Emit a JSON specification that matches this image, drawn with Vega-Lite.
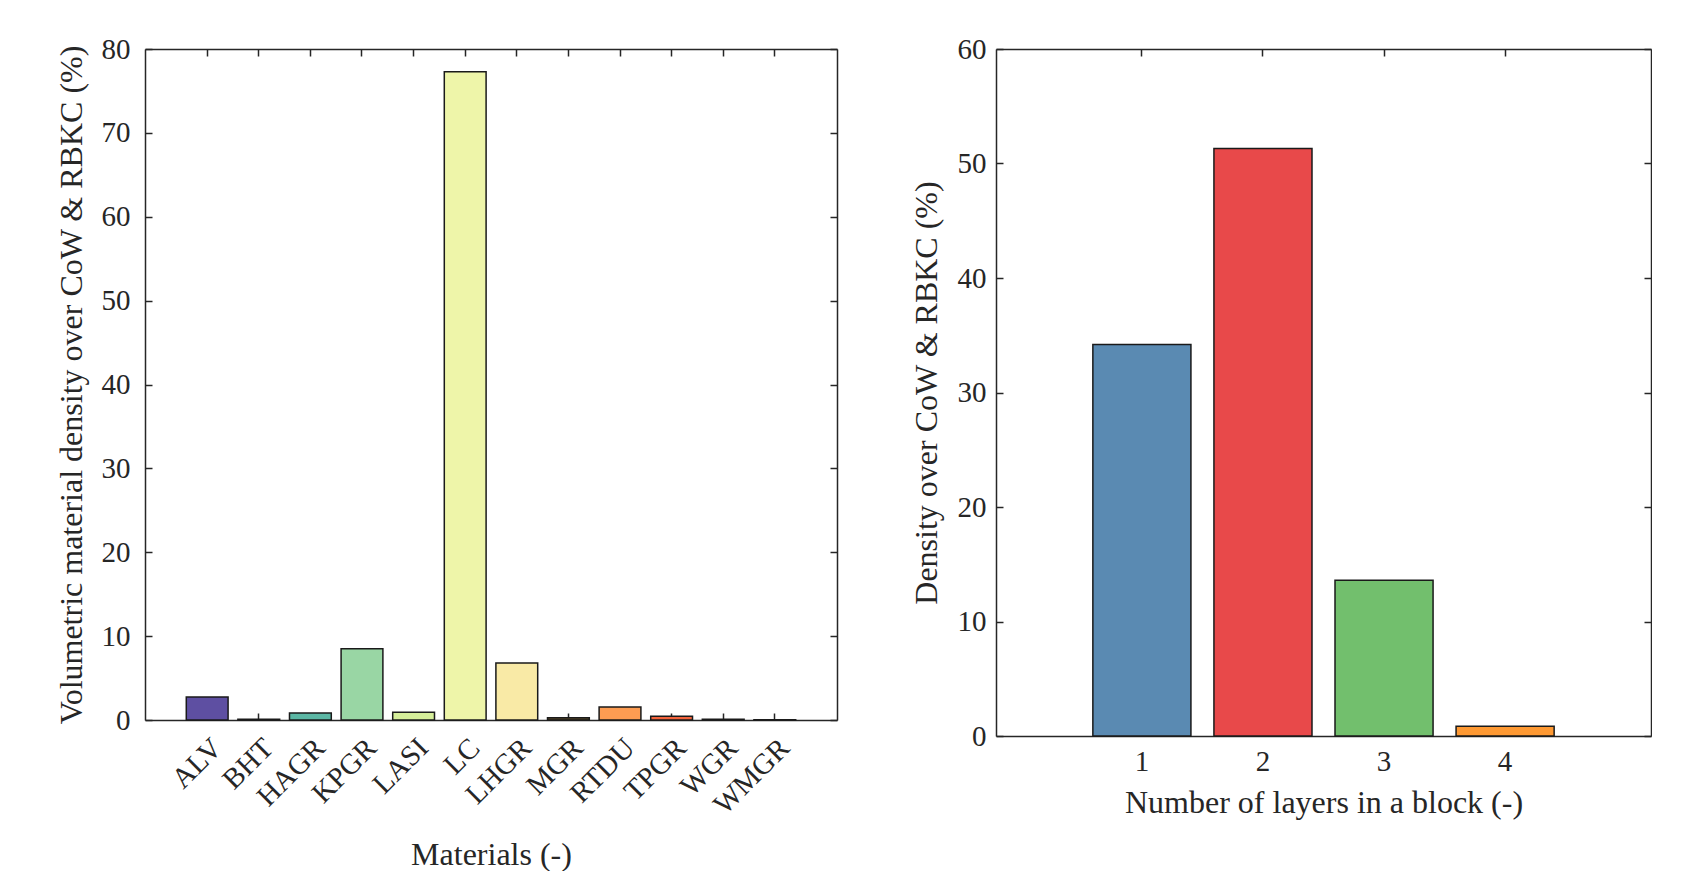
{
  "$schema": "https://vega.github.io/schema/vega-lite/v6.json",
  "padding": {"left": 55, "top": 35, "right": 0, "bottom": 0},
  "background": "white",
  "spacing": 72,
  "resolve": {"scale": {"color": "independent"}},
  "config": {
    "font": "Liberation Serif",
    "view": {"stroke": null},
    "axis": {
      "labelFont": "Liberation Serif",
      "titleFont": "Liberation Serif",
      "labelFontSize": 29,
      "titleFontSize": 32,
      "labelColor": "#262626",
      "titleColor": "#262626",
      "titleFontWeight": "normal",
      "domainColor": "#262626",
      "domainWidth": 1.5,
      "tickColor": "#262626",
      "tickWidth": 1.5,
      "tickSize": -7,
      "grid": false
    }
  },
  "hconcat": [
    {
      "width": 692,
      "height": 671,
      "data": {"values": [
        {"material": "ALV", "density": 2.75},
        {"material": "BHT", "density": 0.08},
        {"material": "HAGR", "density": 0.84},
        {"material": "KPGR", "density": 8.5},
        {"material": "LASI", "density": 0.92},
        {"material": "LC", "density": 77.3},
        {"material": "LHGR", "density": 6.8},
        {"material": "MGR", "density": 0.26},
        {"material": "RTDU", "density": 1.55},
        {"material": "TPGR", "density": 0.44},
        {"material": "WGR", "density": 0.08},
        {"material": "WMGR", "density": 0.04}
      ]},
      "layer": [
        {
          "mark": {"type": "bar", "stroke": "#1a1a1a", "strokeWidth": 1.5},
          "encoding": {
            "x": {"field": "material", "type": "nominal", "sort": null,
              "scale": {"paddingInner": 0.19, "paddingOuter": 0.8},
              "axis": {"orient": "bottom", "title": "Materials (-)", "labelAngle": -45, "labelAlign": "right", "labelBaseline": "top", "labelPadding": 20, "titlePadding": 20}},
            "y": {"field": "density", "type": "quantitative",
              "scale": {"domain": [0, 80], "nice": false},
              "axis": {"orient": "left", "values": [0, 10, 20, 30, 40, 50, 60, 70, 80], "title": "Volumetric material density over CoW & RBKC (%)", "labelPadding": 22, "titlePadding": 13}},
            "color": {"field": "material", "type": "nominal", "sort": null, "legend": null,
              "scale": {
                "domain": ["ALV", "BHT", "HAGR", "KPGR", "LASI", "LC", "LHGR", "MGR", "RTDU", "TPGR", "WGR", "WMGR"],
                "range": ["#5e4fa2", "#8a8a9a", "#5bb7a4", "#99d6a4", "#d6ef9a", "#eef5a9", "#f9eaa6", "#5c4a27", "#fd9c52", "#f4643c", "#c0505a", "#7a1f3a"]
              }}
          }
        },
        {
          "mark": {"type": "bar", "fillOpacity": 0, "strokeOpacity": 0},
          "encoding": {
            "x": {"field": "material", "type": "nominal", "sort": null,
              "axis": {"orient": "top", "labels": false, "title": null}},
            "y": {"field": "density", "type": "quantitative",
              "axis": {"orient": "right", "labels": false, "title": null, "values": [0, 10, 20, 30, 40, 50, 60, 70, 80]}}
          }
        }
      ],
      "resolve": {"axis": {"x": "independent", "y": "independent"}}
    },
    {
      "width": 655,
      "height": 687,
      "data": {"values": [
        {"layers": "1", "density": 34.2},
        {"layers": "2", "density": 51.3},
        {"layers": "3", "density": 13.6},
        {"layers": "4", "density": 0.85}
      ]},
      "layer": [
        {
          "mark": {"type": "bar", "stroke": "#1a1a1a", "strokeWidth": 1.5},
          "encoding": {
            "x": {"field": "layers", "type": "nominal", "sort": null,
              "scale": {"paddingInner": 0.19, "paddingOuter": 0.8},
              "axis": {"orient": "bottom", "title": "Number of layers in a block (-)", "labelAngle": 0, "labelPadding": 18, "titlePadding": 11}},
            "y": {"field": "density", "type": "quantitative",
              "scale": {"domain": [0, 60], "nice": false},
              "axis": {"orient": "left", "values": [0, 10, 20, 30, 40, 50, 60], "title": "Density over CoW & RBKC (%)", "labelPadding": 17, "titlePadding": 14}},
            "color": {"field": "layers", "type": "nominal", "sort": null, "legend": null,
              "scale": {"domain": ["1", "2", "3", "4"], "range": ["#5a8ab2", "#e8494a", "#72bf6d", "#fe9933"]}}
          }
        },
        {
          "mark": {"type": "bar", "fillOpacity": 0, "strokeOpacity": 0},
          "encoding": {
            "x": {"field": "layers", "type": "nominal", "sort": null,
              "axis": {"orient": "top", "labels": false, "title": null}},
            "y": {"field": "density", "type": "quantitative",
              "axis": {"orient": "right", "labels": false, "title": null, "values": [0, 10, 20, 30, 40, 50, 60]}}
          }
        }
      ],
      "resolve": {"axis": {"x": "independent", "y": "independent"}}
    }
  ]
}
